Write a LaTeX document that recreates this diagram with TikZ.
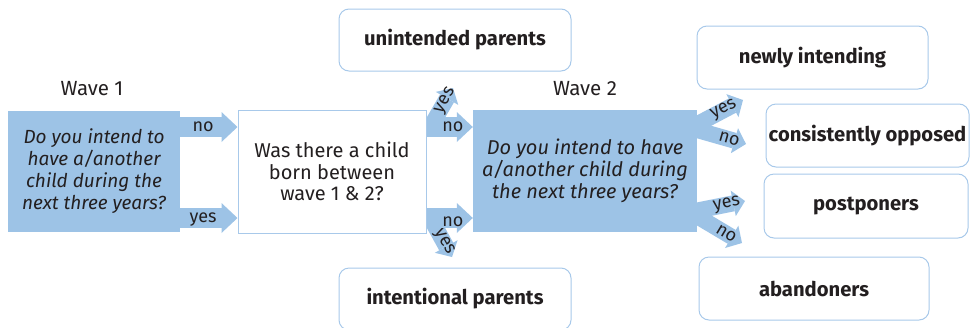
\documentclass[tikz,border=0pt]{standalone}
\usepackage{fontspec}
\setmainfont{Fira Sans}
\usetikzlibrary{arrows.meta,backgrounds}
\definecolor{arrowblue}{HTML}{9DC3E6}
\definecolor{boxline}{HTML}{A8C9EA}
\definecolor{textgray}{HTML}{231F20}
\begin{document}
\begin{tikzpicture}[x=1pt,y=-1pt,
  fat/.style={draw=arrowblue, line width=20pt, -{Triangle[length=16pt,width=30pt,line width=0pt]}},
  branch/.style={draw=arrowblue, line width=16pt, -{Triangle[length=12pt,width=26pt,line width=0pt]}},
  qbox/.style={fill=arrowblue, inner sep=0pt, font=\fontsize{19}{22}\selectfont\itshape, align=center, text=textgray},
  bbox/.style={draw=boxline, fill=white, line width=1pt, inner sep=0pt, font=\fontsize{20}{21.5}\selectfont, align=center, text=textgray},
  res/.style={draw=boxline, fill=white, rounded corners=10pt, line width=1pt, inner sep=0pt, font=\fontsize{20.2}{22}\selectfont\bfseries, text=textgray},
  lab/.style={font=\fontsize{18}{20}\selectfont, text=textgray, inner sep=0pt},
  wave/.style={font=\fontsize{20.5}{22}\selectfont, text=textgray, inner sep=0pt},
]
\useasboundingbox (0,0) rectangle (973,327);

% main boxes
\node[qbox, minimum width=172pt, minimum height=121pt] (q1) at (94,171.5)
  {Do you intend to\\have a/another\\child during the\\next three years?};
\node[bbox, minimum width=188pt, minimum height=123pt] (b) at (332,171.5)
  {Was there a child\\born between\\wave 1 \& 2?};
\node[qbox, minimum width=224pt, minimum height=122pt, font=\fontsize{20}{22}\selectfont\itshape] (q2) at (585,171)
  {Do you intend to have\\a/another child during\\the next three years?};

\node[wave] (w1) at (92,89) {Wave 1};
\node[wave] (w2) at (585,89) {Wave 2};

% outcome boxes
\node[res, minimum width=232pt, minimum height=62pt] (unint) at (455,40) {unintended parents};
\node[res, minimum width=232pt, minimum height=62pt] (intent) at (455,299) {intentional parents};
\node[res, minimum width=231pt, minimum height=63pt] (newly) at (812.5,57.5) {newly intending};
\node[res, minimum width=203pt, minimum height=63pt] (cons) at (867.5,135.5) {consistently opposed};
\node[res, minimum width=204pt, minimum height=64pt] (post) at (866,206) {postponers};
\node[res, minimum width=230pt, minimum height=63pt] (aban) at (814,288.5) {abandoners};

% helper coordinates
\coordinate (yNo) at (0,127);
\coordinate (yYes) at (0,218);
\coordinate (bTs) at (431,126);
\coordinate (bTy) at (453,88);
\coordinate (bBs) at (431,219);
\coordinate (bBy) at (452,257);
\coordinate (qTs) at (690,128);
\coordinate (qTy) at (743,100);
\coordinate (qTn) at (746,144);
\coordinate (qBs) at (690,212);
\coordinate (qBy) at (745,201);
\coordinate (qBn) at (742,243);

\begin{scope}[on background layer]
  \draw[fat] (q1.east |- yNo) -- node[lab,pos=0.4] {no} (b.west |- yNo);
  \draw[fat] (q1.east |- yYes) -- node[lab,pos=0.4,yshift=-2pt] {yes} (b.west |- yYes);
  \draw[branch] (bTs) -- node[lab,sloped,pos=0.66] {yes} (bTy);
  \draw[branch] (bBs) -- node[lab,sloped,pos=0.6] {yes} (bBy);
  \draw[fat] (b.east |- yNo) -- node[lab,pos=0.57] {no} (q2.west |- yNo);
  \draw[fat] (b.east |- yYes) -- node[lab,pos=0.57,yshift=-4pt] {no} (q2.west |- yYes);
  \draw[branch] (qTs) -- node[lab,sloped,pos=0.64] {yes} (qTy);
  \draw[branch] (qTs) -- node[lab,sloped,pos=0.7] {no} (qTn);
  \draw[branch] (qBs) -- node[lab,sloped,pos=0.67] {yes} (qBy);
  \draw[branch] (qBs) -- node[lab,sloped,pos=0.7] {no} (qBn);
\end{scope}
\end{tikzpicture}
\end{document}
